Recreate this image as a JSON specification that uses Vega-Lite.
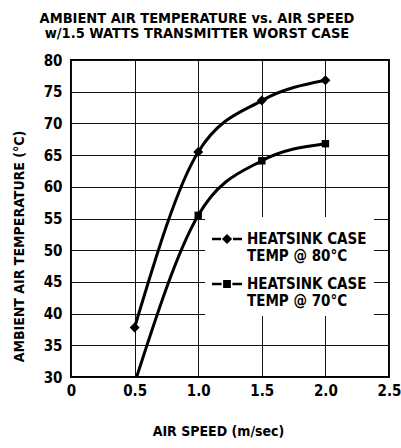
{
  "$schema": "https://vega.github.io/schema/vega-lite/v6.json",
  "width": 318,
  "height": 317,
  "autosize": {"type": "none"},
  "padding": {"left": 71, "top": 60, "right": 12, "bottom": 71},
  "background": "white",
  "title": {
    "text": ["AMBIENT AIR TEMPERATURE vs. AIR SPEED", "w/1.5 WATTS TRANSMITTER WORST CASE"],
    "anchor": "middle",
    "dx": -33,
    "offset": 12,
    "fontSize": 14.5,
    "lineHeight": 15,
    "font": "Liberation Sans Narrow, DejaVu Sans Condensed, sans-serif",
    "fontWeight": "bold",
    "color": "black"
  },
  "config": {
    "view": {"stroke": "black", "strokeWidth": 2},
    "axis": {
      "domain": false,
      "grid": true,
      "gridColor": "#111111",
      "gridWidth": 1,
      "gridOpacity": 1,
      "ticks": false,
      "labelFont": "Liberation Sans Narrow, DejaVu Sans Condensed, sans-serif",
      "labelFontSize": 15,
      "labelFontWeight": "bold",
      "labelColor": "black",
      "labelFlush": false,
      "labelOverlap": false,
      "titleFont": "Liberation Sans Narrow, DejaVu Sans Condensed, sans-serif",
      "titleFontSize": 14,
      "titleFontWeight": "bold",
      "titleColor": "black"
    }
  },
  "data": {
    "values": [
      {"speed": 0.5, "temp": 37.8, "series": "HEATSINK CASE|TEMP @ 80°C"},
      {"speed": 1.0, "temp": 65.5, "series": "HEATSINK CASE|TEMP @ 80°C"},
      {"speed": 1.5, "temp": 73.6, "series": "HEATSINK CASE|TEMP @ 80°C"},
      {"speed": 2.0, "temp": 76.8, "series": "HEATSINK CASE|TEMP @ 80°C"},
      {"speed": 0.5, "temp": 29.0, "series": "HEATSINK CASE|TEMP @ 70°C"},
      {"speed": 1.0, "temp": 55.5, "series": "HEATSINK CASE|TEMP @ 70°C"},
      {"speed": 1.5, "temp": 64.1, "series": "HEATSINK CASE|TEMP @ 70°C"},
      {"speed": 2.0, "temp": 66.8, "series": "HEATSINK CASE|TEMP @ 70°C"}
    ]
  },
  "encoding": {
    "x": {
      "field": "speed",
      "type": "quantitative",
      "scale": {"domain": [0, 2.5], "nice": false, "zero": false},
      "axis": {
        "values": [0, 0.5, 1, 1.5, 2, 2.5],
        "labelExpr": "datum.value == 0 ? '0' : format(datum.value, '.1f')",
        "labelPadding": 6,
        "title": "AIR SPEED (m/sec)",
        "titleX": 147,
        "titleY": 47,
        "titleBaseline": "top",
        "titleAlign": "center"
      }
    },
    "y": {
      "field": "temp",
      "type": "quantitative",
      "scale": {"domain": [30, 80], "nice": false, "zero": false},
      "axis": {
        "values": [30, 35, 40, 45, 50, 55, 60, 65, 70, 75, 80],
        "labelPadding": 9,
        "title": "AMBIENT AIR TEMPERATURE (°C)",
        "titleX": -45,
        "titleY": 186,
        "titleAlign": "center"
      }
    }
  },
  "layer": [
    {
      "mark": {"type": "line", "color": "black", "strokeWidth": 3, "interpolate": "monotone", "clip": true},
      "encoding": {"detail": {"field": "series"}}
    },
    {
      "mark": {"type": "point", "filled": true, "color": "black", "opacity": 1, "clip": true},
      "encoding": {
        "shape": {
          "field": "series",
          "scale": {"domain": ["HEATSINK CASE|TEMP @ 80°C", "HEATSINK CASE|TEMP @ 70°C"], "range": ["diamond", "square"]},
          "legend": null
        },
        "size": {
          "field": "series",
          "type": "nominal",
          "scale": {"domain": ["HEATSINK CASE|TEMP @ 80°C", "HEATSINK CASE|TEMP @ 70°C"], "range": [100, 55]},
          "legend": null
        }
      }
    },
    {
      "mark": {"type": "point", "filled": true, "color": "black", "opacity": 0},
      "encoding": {
        "shape": {
          "field": "series",
          "scale": {
            "domain": ["HEATSINK CASE|TEMP @ 80°C", "HEATSINK CASE|TEMP @ 70°C"],
            "range": [
              "M-1,-0.08L-0.4,-0.08L-0.4,0.08L-1,0.08Z M0.4,-0.08L1,-0.08L1,0.08L0.4,0.08Z M0,-0.34L0.34,0L0,0.34L-0.34,0Z",
              "M-1,-0.08L-0.36,-0.08L-0.36,0.08L-1,0.08Z M0.36,-0.08L1,-0.08L1,0.08L0.36,0.08Z M-0.26,-0.26L0.26,-0.26L0.26,0.26L-0.26,0.26Z"
            ]
          },
          "legend": {
            "title": null,
            "orient": "none",
            "legendX": 134,
            "legendY": 157,
            "fillColor": "white",
            "padding": 7,
            "labelExpr": "split(datum.label, '|')",
            "labelFont": "Liberation Sans Narrow, DejaVu Sans Condensed, sans-serif",
            "labelFontSize": 15,
            "labelFontWeight": "bold",
            "labelColor": "black",
            "labelLineHeight": 17,
            "labelBaseline": "middle",
            "labelOffset": 5,
            "labelLimit": 0,
            "symbolSize": 900,
            "symbolOpacity": 1,
            "symbolFillColor": "black",
            "symbolStrokeColor": "black",
            "symbolStrokeWidth": 0,
            "rowPadding": 5,
            "encode": {
              "labels": {"update": {"dy": {"value": 8.5}}},
              "symbols": {"update": {"fill": {"value": "black"}, "opacity": {"value": 1}, "fillOpacity": {"value": 1}}}
            }
          }
        }
      }
    }
  ],
  "resolve": {"scale": {"shape": "independent", "size": "independent"}, "legend": {"shape": "independent"}}
}
